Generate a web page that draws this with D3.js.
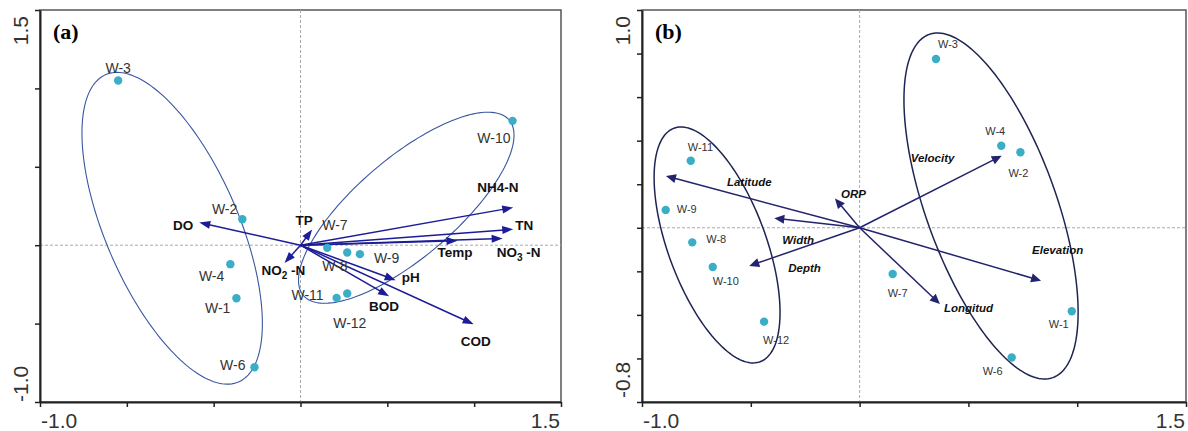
<!DOCTYPE html>
<html>
<head>
<meta charset="utf-8">
<script src="https://cdn.jsdelivr.net/npm/d3@7/dist/d3.min.js"></script>
<style>
body { margin: 0; background: #fff; }
svg text { font-family: "Liberation Sans", Arial, sans-serif; }
</style>
</head>
<body>
<svg id="chart" width="1188" height="431"></svg>
<script>
'use strict';

// ---- panel (a): water quality variables ----
var sitesA = ["W-3", "W-2", "W-4", "W-1", "W-6", "W-10", "W-7", "W-8", "W-9", "W-11", "W-12"];
var siteXA = [-1.05, -0.335, -0.404, -0.369, -0.265, 1.221, 0.154, 0.269, 0.342, 0.208, 0.269];
var siteYA = [1.05, 0.166, -0.121, -0.338, -0.778, 0.793, -0.017, -0.047, -0.057, -0.336, -0.308];

var varsA = ["DO", "TP", "NO2-N", "NH4-N", "TN", "NO3-N", "Temp", "pH", "BOD", "COD"];
var varXA = [-0.583, 0.067, -0.092, 1.225, 1.225, 1.164, 0.904, 0.548, 0.510, 0.997];
var varYA = [0.145, 0.100, -0.113, 0.240, 0.102, 0.043, 0.028, -0.223, -0.325, -0.504];

// ellipse = centre x, centre y, then two conjugate half-axis vectors (data units)
var ellipsesA = [
	[-0.739, 0.108, 0.382, -0.980, -0.352, -0.168],
	[0.609, 0.239, 0.592, 0.560, 0.186, -0.240]
];

var xTicksA = [-1.5, -1.0, -0.5, 0.0, 0.5, 1.0, 1.5];
var yTicksA = [-1.0, -0.5, 0.0, 0.5, 1.0, 1.5];
var xEndLabelsA = ["-1.0", "1.5"];
var yEndLabelsA = ["-1.0", "1.5"];

// ---- panel (b): environmental variables ----
var sitesB = ["W-3", "W-4", "W-2", "W-11", "W-9", "W-8", "W-10", "W-12", "W-7", "W-1", "W-6"];
var siteXB = [0.351, 0.651, 0.739, -0.776, -0.891, -0.769, -0.675, -0.439, 0.152, 0.975, 0.699];
var siteYB = [0.775, 0.377, 0.347, 0.308, 0.082, -0.067, -0.180, -0.431, -0.212, -0.383, -0.596];

var varsB = ["Latitude", "ORP", "Width", "Depth", "Velocity", "Elevation", "Longitud"];
var varXB = [-0.890, -0.113, -0.392, -0.507, 0.653, 0.834, 0.369];
var varYB = [0.238, 0.135, 0.044, -0.175, 0.331, -0.243, -0.350];

var ellipsesB = [
	[-0.655, -0.079, 0.198, -0.536, -0.211, -0.078],
	[0.604, 0.100, 0.284, -0.788, -0.282, -0.101]
];

var xTicksB = [-1.0, -0.5, 0.0, 0.5, 1.0, 1.5];
var yTicksB = [-0.8, -0.6, -0.4, -0.2, 0.0, 0.2, 0.4, 0.6, 0.8, 1.0];
var xEndLabelsB = ["-1.0", "1.5"];
var yEndLabelsB = ["-0.8", "1.0"];

// label placement (pixel offsets from the mark, anchor)
var siteLabelPosA = {
	"W-3": [0, -8, "middle"], "W-2": [-5, -5, "end"], "W-4": [-6, 17, "end"],
	"W-1": [-6, 15, "end"], "W-6": [-9, 3, "end"], "W-10": [-2, 22, "end"],
	"W-7": [-5, -18, "start"], "W-8": [-25, 18, "start"], "W-9": [14, 9, "start"],
	"W-11": [-13, 2, "end"], "W-12": [-14, 35, "start"]
};
var varLabelPosA = {
	"DO": [-6, 8, "end"], "TP": [-8, -5, "middle"], "NO2-N": [-23, 12, "start"],
	"NH4-N": [-36, -16, "start"], "TN": [2, 1, "start"], "NO3-N": [-6, 19, "start"],
	"Temp": [-20, 16, "start"], "pH": [6, 2, "start"], "BOD": [-20, 15, "start"],
	"COD": [-13, 22, "start"]
};
var siteLabelPosB = {
	"W-3": [2, -11, "start"], "W-4": [-16, -11, "start"], "W-2": [-12, 25, "start"],
	"W-11": [-3, -10, "start"], "W-9": [11, 3, "start"], "W-8": [14, 1, "start"],
	"W-10": [0, 18, "start"], "W-12": [-1, 22, "start"], "W-7": [-5, 23, "start"],
	"W-1": [-23, 17, "start"], "W-6": [-29, 17, "start"]
};
var varLabelPosB = {
	"Latitude": [61, 10, "start"], "ORP": [6, 0, "start"], "Width": [8, 26, "start"],
	"Depth": [39, 6, "start"], "Velocity": [-91, 6, "start"], "Elevation": [-9, -27, "start"],
	"Longitud": [4, 8, "start"]
};

var POINT_COLOR = "#3aaec6";

var svg = d3.select("#chart");

function drawPanel(p) {
	var x = d3.scaleLinear().domain(p.xDomain).range([p.left, p.right]);
	var y = d3.scaleLinear().domain(p.yDomain).range([p.bottom, p.top]);
	var g = svg.append("g");

	// frame
	g.append("rect")
		.attr("x", p.left).attr("y", p.top)
		.attr("width", p.right - p.left).attr("height", p.bottom - p.top)
		.attr("fill", "none").attr("stroke", "#555").attr("stroke-width", 1.5);

	// origin cross
	g.append("line")
		.attr("x1", x(0)).attr("x2", x(0)).attr("y1", p.top).attr("y2", p.bottom)
		.attr("stroke", "#aaa").attr("stroke-width", 1).attr("stroke-dasharray", "3,2");
	g.append("line")
		.attr("x1", p.left).attr("x2", p.right).attr("y1", y(0)).attr("y2", y(0))
		.attr("stroke", "#aaa").attr("stroke-width", 1).attr("stroke-dasharray", "3,2");

	// axes
	var ax = g.append("g")
		.attr("transform", "translate(0," + p.bottom + ")")
		.call(d3.axisBottom(x).tickValues(p.xTicks).tickFormat("").tickSize(5).tickSizeOuter(0));
	var ay = g.append("g")
		.attr("transform", "translate(" + p.left + ",0)")
		.call(d3.axisLeft(y).tickValues(p.yTicks).tickFormat("").tickSize(5).tickSizeOuter(0));
	[ax, ay].forEach(function (a) {
		a.select(".domain").attr("stroke", "#222").attr("stroke-width", 2);
		a.selectAll(".tick line").attr("stroke", "#222").attr("stroke-width", 1.5);
	});

	// end labels of axes
	var tl = g.append("g").attr("fill", "#333").style("font-size", "21px");
	tl.append("text").attr("x", x(p.xDomain[0]) + 1).attr("y", p.bottom + 26)
		.attr("text-anchor", "start").text(p.xEndLabels[0]);
	tl.append("text").attr("x", x(p.xDomain[1]) - 1).attr("y", p.bottom + 26)
		.attr("text-anchor", "end").text(p.xEndLabels[1]);
	tl.append("text")
		.attr("transform", "translate(" + (p.left - 12) + "," + (y(p.yDomain[0]) - p.yLabelInset) + ") rotate(-90)")
		.attr("text-anchor", "start").text(p.yEndLabels[0]);
	tl.append("text")
		.attr("transform", "translate(" + (p.left - 12) + "," + (y(p.yDomain[1]) + 6) + ") rotate(-90)")
		.attr("text-anchor", "end").text(p.yEndLabels[1]);

	// panel tag
	g.append("text")
		.attr("x", p.left + 13).attr("y", p.top + 29)
		.style("font-family", "'Liberation Serif','Times New Roman',serif")
		.style("font-weight", "bold").style("font-size", "22px")
		.text(p.tag);

	// ellipses
	var line = d3.line().curve(d3.curveLinearClosed);
	p.ellipses.forEach(function (e) {
		var pts = d3.range(0, 2 * Math.PI, Math.PI / 90).map(function (t) {
			return [x(e[0] + e[2] * Math.cos(t) + e[4] * Math.sin(t)),
				y(e[1] + e[3] * Math.cos(t) + e[5] * Math.sin(t))];
		});
		g.append("path").attr("d", line(pts))
			.attr("fill", "none").attr("stroke", p.ellipseColor).attr("stroke-width", p.ellipseWidth);
	});

	// arrows
	var ox = x(0), oy = y(0);
	p.vars.forEach(function (name, i) {
		var tx = x(p.varX[i]), ty = y(p.varY[i]);
		var dx = tx - ox, dy = ty - oy, len = Math.sqrt(dx * dx + dy * dy);
		var ux = dx / len, uy = dy / len;
		var hl = p.headLen, hw = p.headWidth;
		var bx = tx - ux * hl, by = ty - uy * hl;
		g.append("line")
			.attr("x1", ox).attr("y1", oy).attr("x2", bx + ux * 2).attr("y2", by + uy * 2)
			.attr("stroke", p.arrowColor).attr("stroke-width", 1.5);
		g.append("path")
			.attr("d", "M" + tx + "," + ty +
				"L" + (bx - uy * hw) + "," + (by + ux * hw) +
				"L" + (bx + uy * hw) + "," + (by - ux * hw) + "Z")
			.attr("fill", p.arrowColor);

		var lp = p.varLabelPos[name];
		var t = g.append("text")
			.attr("x", tx + lp[0]).attr("y", ty + lp[1])
			.attr("text-anchor", lp[2])
			.attr("fill", "#111")
			.style("font-weight", "bold")
			.style("font-style", p.varItalic ? "italic" : "normal")
			.style("font-size", p.varFont);
		// NO2-N and NO3-N carry a subscript, NH4-N is written inline in the figure
		var m = name.match(/^(NO)(\d)(-N)$/);
		if (m) {
			t.append("tspan").text(m[1]);
			t.append("tspan").attr("dy", 4).style("font-size", "10px").text(m[2]);
			t.append("tspan").attr("dy", -4).text(" -N");
		} else {
			t.text(name);
		}
	});

	// sites
	p.sites.forEach(function (name, i) {
		var cx = x(p.siteX[i]), cy = y(p.siteY[i]);
		g.append("circle").attr("cx", cx).attr("cy", cy).attr("r", 4.2).attr("fill", POINT_COLOR);
		var lp = p.siteLabelPos[name];
		g.append("text")
			.attr("x", cx + lp[0]).attr("y", cy + lp[1])
			.attr("text-anchor", lp[2])
			.attr("fill", "#333")
			.style("font-size", p.siteFont)
			.text(name);
	});
}

drawPanel({
	tag: "(a)", left: 40, right: 561, top: 10, bottom: 402, yLabelInset: 0,
	xDomain: [-1.5, 1.5], yDomain: [-1.0, 1.5],
	xTicks: xTicksA, yTicks: yTicksA, xEndLabels: xEndLabelsA, yEndLabels: yEndLabelsA,
	sites: sitesA, siteX: siteXA, siteY: siteYA, siteLabelPos: siteLabelPosA, siteFont: "14px",
	vars: varsA, varX: varXA, varY: varYA, varLabelPos: varLabelPosA, varFont: "13.5px", varItalic: false,
	ellipses: ellipsesA, ellipseColor: "#3a56a0", ellipseWidth: 1.1,
	arrowColor: "#1c1c96", headLen: 11, headWidth: 4
});

drawPanel({
	tag: "(b)", left: 642, right: 1186, top: 10, bottom: 402, yLabelInset: 4,
	xDomain: [-1.0, 1.5], yDomain: [-0.8, 1.0],
	xTicks: xTicksB, yTicks: yTicksB, xEndLabels: xEndLabelsB, yEndLabels: yEndLabelsB,
	sites: sitesB, siteX: siteXB, siteY: siteYB, siteLabelPos: siteLabelPosB, siteFont: "11px",
	vars: varsB, varX: varXB, varY: varYB, varLabelPos: varLabelPosB, varFont: "11.5px", varItalic: true,
	ellipses: ellipsesB, ellipseColor: "#1e2552", ellipseWidth: 1.5,
	arrowColor: "#23236e", headLen: 10, headWidth: 4.5
});
</script>
</body>
</html>
